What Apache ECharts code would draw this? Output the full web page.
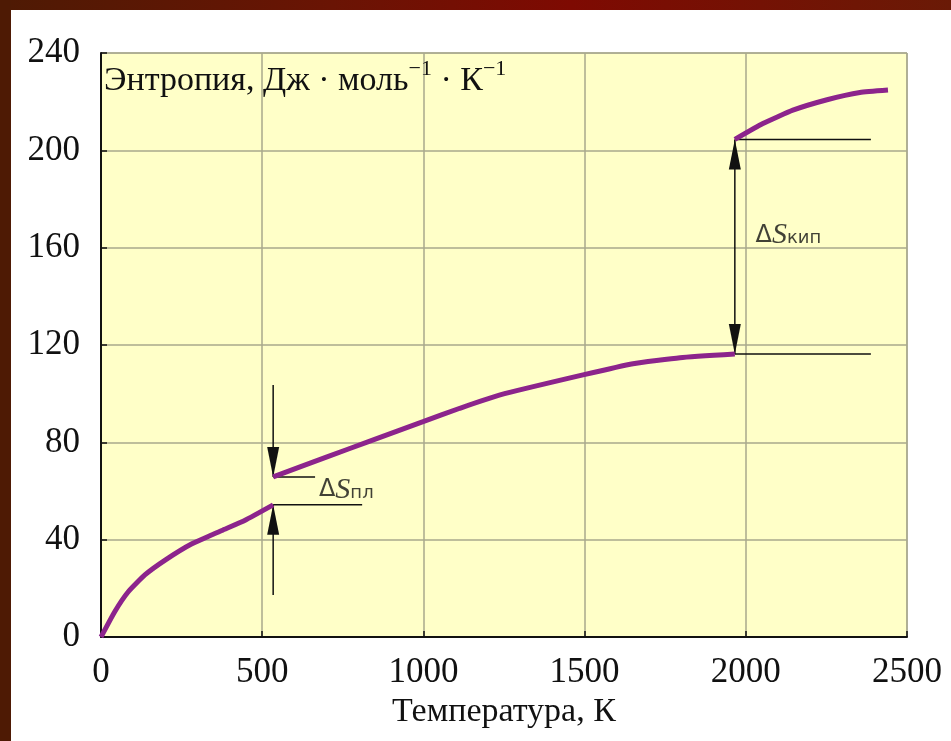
<!DOCTYPE html>
<html>
<head>
<meta charset="utf-8">
<script src="https://cdn.jsdelivr.net/npm/echarts@6/dist/echarts.min.js"></script>
<style>
  html, body { margin: 0; padding: 0; background: #fff; }
  #chart { width: 951px; height: 741px; }
</style>
</head>
<body>
<div id="chart"></div>
<script>
// entropy curve, three phases
var solidT  = [0, 43, 84, 136, 199, 282, 375, 447, 534];
var solidS  = [0, 10.5, 18.5, 25.5, 31.6, 38.3, 43.8, 48, 54.3];
var liquidT = [534, 701, 834, 999, 1113, 1238, 1495, 1650, 1796, 1966];
var liquidS = [65.8, 74, 80.5, 88.5, 94, 99.5, 107.7, 112.3, 114.8, 116.3];
var gasT    = [1966, 2053, 2146, 2252, 2354, 2441];
var gasS    = [204.5, 211, 216.5, 220.8, 223.8, 224.8];

// phase transitions
var meltT = 534, meltLow = 54.3, meltHigh = 65.8;
var meltArrowTop = 103.6, meltArrowBottom = 17.3;
var meltLineEndHigh = 664, meltLineEndLow = 810;
var meltLabelT = 676, meltLabelS = 60.4;
var boilT = 1966, boilLow = 116.3, boilHigh = 204.5, boilLineEnd = 2388;
var boilLabelT = 2030, boilLabelS = 165;

var xTicks = [0, 500, 1000, 1500, 2000, 2500];
var yTicks = [0, 40, 80, 120, 160, 200, 240];

function pairs(xs, ys) {
	return xs.map(function (x, i) { return [x, ys[i]]; });
}

var serif = '"Liberation Serif", "DejaVu Serif", serif';
var sans = '"DejaVu Sans", sans-serif';
var black = '#111';

var annotLine = function (data) {
	return {
		type: 'line',
		data: data,
		symbol: 'none',
		silent: true,
		lineStyle: { color: black, width: 1.5 },
		z: 3
	};
};

var arrowHead = function (point, up) {
	return {
		type: 'scatter',
		data: [point],
		symbol: 'triangle',
		symbolSize: [12, 30],
		symbolRotate: up ? 0 : 180,
		symbolOffset: [0, up ? 15 : -15],
		itemStyle: { color: black, opacity: 1 },
		silent: true,
		z: 4
	};
};

var phaseLine = function (xs, ys) {
	return {
		type: 'line',
		data: pairs(xs, ys),
		smooth: 0.15,
		symbol: 'none',
		lineStyle: { color: '#8c248c', width: 5 },
		z: 5
	};
};

var deltaLabel = function (t, s, sub) {
	return {
		type: 'scatter',
		data: [[t, s]],
		symbolSize: 0,
		silent: true,
		label: {
			show: true, position: 'right', distance: 0,
			formatter: '{d|Δ}{s|S}{p|' + sub + '}',
			rich: {
				d: { fontFamily: sans, fontSize: 24, color: black },
				s: { fontFamily: serif, fontStyle: 'italic', fontSize: 30, color: black },
				p: { fontFamily: sans, fontSize: 18, color: black, padding: [6, 0, 0, 0] }
			}
		}
	};
};

var chart = echarts.init(document.getElementById('chart'));
chart.setOption({
	backgroundColor: '#fff',
	animation: false,
	grid: {
		left: 101, right: 44, top: 53, bottom: 104,
		show: true,
		backgroundColor: '#ffffc8',
		borderColor: '#8a8a80',
		borderWidth: 1
	},
	graphic: [
		{
			type: 'rect', left: 0, top: 0, z: -1,
			shape: { width: 951, height: 10 },
			style: {
				fill: new echarts.graphic.LinearGradient(0, 0, 1, 0, [
					{ offset: 0, color: '#4e1a04' },
					{ offset: 0.35, color: '#6a1404' },
					{ offset: 0.6, color: '#7e0a02' },
					{ offset: 1, color: '#6a1a06' }
				])
			}
		},
		{
			type: 'rect', left: 0, top: 0, z: -1,
			shape: { width: 11, height: 741 },
			style: { fill: '#4e1a04' }
		},
		{
			type: 'text', left: 104, top: 58, z: 10,
			style: {
				text: '{b|Энтропия, Дж · моль}{s|−1}{b| · К}{s|−1}',
				rich: {
					b: { fontFamily: serif, fontSize: 34, fill: black, lineHeight: 42 },
					s: { fontFamily: serif, fontSize: 22, fill: black, padding: [0, 0, 24, 0] }
				}
			}
		}
	],
	xAxis: {
		type: 'value',
		min: xTicks[0], max: xTicks[xTicks.length - 1], interval: 500,
		name: 'Температура, К',
		nameLocation: 'middle',
		nameGap: 48,
		nameTextStyle: { fontFamily: serif, fontSize: 34, color: black },
		axisLine: { lineStyle: { color: black, width: 2 } },
		axisTick: { inside: true, length: 6, lineStyle: { color: black, width: 1.5 } },
		axisLabel: {
			margin: 18, fontFamily: serif, fontSize: 35, color: black,
			formatter: function (v) { return String(v); }
		},
		splitLine: { lineStyle: { color: '#a8a88c', width: 1.5 } }
	},
	yAxis: {
		type: 'value',
		min: yTicks[0], max: yTicks[yTicks.length - 1], interval: 40,
		axisLine: { show: true, lineStyle: { color: black, width: 2 } },
		axisTick: { show: true, inside: true, length: 6, lineStyle: { color: black, width: 1.5 } },
		axisLabel: {
			margin: 21, fontFamily: serif, fontSize: 35, color: black,
			formatter: function (v) { return String(v); }
		},
		splitLine: { lineStyle: { color: '#a8a88c', width: 1.5 } }
	},
	series: [
		phaseLine(solidT, solidS),
		phaseLine(liquidT, liquidS),
		phaseLine(gasT, gasS),

		// melting
		annotLine([[meltT, meltArrowTop], [meltT, meltHigh]]),
		annotLine([[meltT, meltArrowBottom], [meltT, meltLow]]),
		annotLine([[meltT, meltHigh], [meltLineEndHigh, meltHigh]]),
		annotLine([[meltT, meltLow], [meltLineEndLow, meltLow]]),
		arrowHead([meltT, meltHigh], false),
		arrowHead([meltT, meltLow], true),
		deltaLabel(meltLabelT, meltLabelS, 'пл'),

		// boiling
		annotLine([[boilT, boilLow], [boilT, boilHigh]]),
		annotLine([[boilT, boilHigh], [boilLineEnd, boilHigh]]),
		annotLine([[boilT, boilLow], [boilLineEnd, boilLow]]),
		arrowHead([boilT, boilHigh], true),
		arrowHead([boilT, boilLow], false),
		deltaLabel(boilLabelT, boilLabelS, 'кип')
	]
});
</script>
</body>
</html>
